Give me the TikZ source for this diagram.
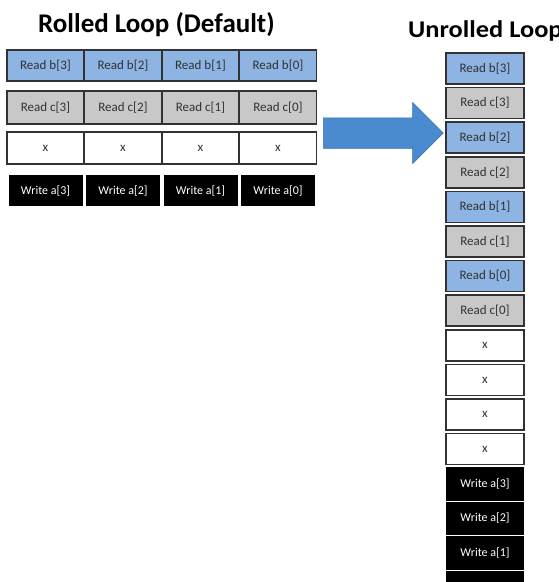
\documentclass[tikz,border=0pt]{standalone}
\usepackage{fontspec}
\setmainfont{Carlito}
\usetikzlibrary{shapes.arrows}
\definecolor{readb}{RGB}{141,180,226}
\definecolor{readc}{RGB}{200,200,200}
\definecolor{shiftblue}{RGB}{74,139,208}
\definecolor{edge}{RGB}{50,50,50}
\begin{document}
\begin{tikzpicture}[x=1pt,y=-1pt,
  cell/.style={draw=edge,line width=1.5pt,minimum width=77pt,minimum height=31pt,inner sep=0pt,text=edge,font=\fontsize{13}{15}\selectfont},
  bcell/.style={cell,fill=readb},
  ccell/.style={cell,fill=readc},
  xcell/.style={cell,fill=white},
  wcell/.style={cell,draw=none,fill=black,text=white,font=\fontsize{12}{14}\selectfont},
  title/.style={inner sep=0pt,anchor=base west,font=\bfseries\fontsize{27}{31}\selectfont}]
\useasboundingbox (0,0) rectangle (559,582);
\node[title] (rolled) at (38,32) {Rolled Loop (Default)};
\node[title,font=\bfseries\fontsize{24}{28}\selectfont] (unrolled) at (408,37) {\scalebox{1.1}[1]{Unrolled Loop}};
% rolled loop: one row per step
\foreach \i/\xc in {3/45.5,2/123,1/200.5,0/278} {
  \node[bcell] (b\i) at (\xc,65.5) {Read b[\i]};
  \node[ccell,minimum height=33pt] (c\i) at (\xc,107.5) {Read c[\i]};
  \node[xcell,minimum height=32pt] (x\i) at (\xc,148) {x};
  \node[wcell,minimum width=74pt] (w\i) at (\xc,190.5) {Write a[\i]};
}
% unrolled loop: one column
\foreach \i/\yb/\yc in {3/68.5/103.1,2/137.7/172.3,1/206.9/241.5,0/276.1/310.7} {
  \node[bcell,minimum width=78pt] (ub\i) at (485,\yb) {Read b[\i]};
  \node[ccell,minimum width=78pt] (uc\i) at (485,\yc) {Read c[\i]};
}
\foreach \k/\yx in {1/345.3,2/379.9,3/414.5,4/449.1}
  \node[xcell,minimum width=78pt] (ux\k) at (485,\yx) {x};
\foreach \i/\yw in {3/483.7,2/518.3,1/552.9}
  \node[wcell,minimum width=78pt,minimum height=33.6pt] (uw\i) at (485,\yw) {Write a[\i]};
\node[wcell,minimum width=78pt,minimum height=33.6pt] (uw0) at (485,587.5) {};
\node[single arrow,fill=shiftblue,draw=shiftblue!80!black,line width=0.5pt,inner xsep=0pt,inner ysep=15pt,
  minimum height=120pt,single arrow head extend=15.5pt,single arrow tip angle=90,anchor=tail] (shift) at (323,133) {};
\end{tikzpicture}
\end{document}
